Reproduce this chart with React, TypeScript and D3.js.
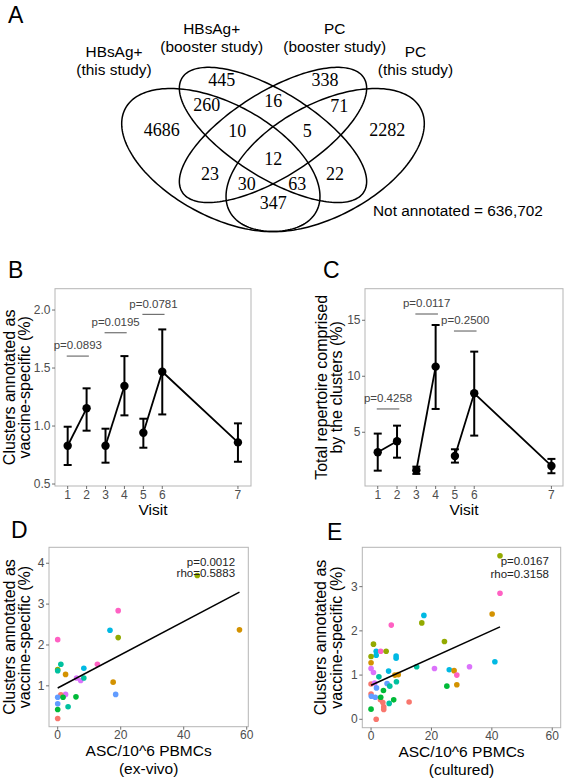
import React from 'react';
import * as d3 from 'd3';

// ---------------- Panel A: Venn data ----------------
const vennSetLines = [
  ['HBsAg+', '(this study)'],
  ['HBsAg+', '(booster study)'],
  ['PC', '(booster study)'],
  ['PC', '(this study)'],
];
const vennRegions = ['1', '2', '3', '4', '12', '23', '34', '14', '123', '234', '13', '24', '134', '124', '1234'];
const vennCounts = [4686, 445, 338, 2282, 260, 16, 71, 347, 10, 5, 23, 22, 30, 63, 12];
const notAnnotated = '636,702';

// ---------------- Panels B / C: visits ----------------
const visitLabels = ['1', '2', '3', '4', '5', '6', '7'];
const visitPos = [1, 2, 3, 4, 5, 6, 10];
const visitSegments = [[0, 1], [2, 3], [4, 5, 6]];

const bMean = [0.83, 1.153, 0.83, 1.345, 0.942, 1.468, 0.859];
const bLow = [0.664, 0.96, 0.684, 1.092, 0.813, 1.1, 0.692];
const bHigh = [0.994, 1.325, 0.977, 1.603, 1.063, 1.833, 1.023];
const bTicks = [0.5, 1.0, 1.5, 2.0];
const bCompFrom = [1, 3, 5];
const bCompTo = [2, 4, 6];
const bCompP = ['p=0.0893', 'p=0.0195', 'p=0.0781'];
const bCompY = [1.603, 1.804, 1.963];

const cMean = [3.21, 4.2, 1.61, 10.86, 2.88, 8.48, 1.99];
const cLow = [1.57, 2.73, 1.28, 7.08, 2.29, 4.7, 1.34];
const cHigh = [4.88, 5.59, 1.93, 14.58, 3.48, 12.2, 2.62];
const cTicks = [5, 10, 15];
const cCompFrom = [1, 3, 5];
const cCompTo = [2, 4, 6];
const cCompP = ['p=0.4258', 'p=0.0117', 'p=0.2500'];
const cCompY = [7.08, 15.56, 14.04];

// ---------------- Panels D / E: scatter ----------------
const palette = ['#F8766D', '#D39200', '#93AA00', '#00BA38', '#00C19F', '#00B9E3', '#619CFF', '#DB72FB', '#FF61C3'];

const dX = [44.3, 19.2, 16.6, 19.2, 57.7, 0, 1.0, 0, 0, 2.5, 8.3, 12.6, 6.0, 7.3, 8.3, 17.6, 18.4, 5.8, 2.5, 1.0, 0, 1.7, 0, 3.3, 0, 0];
const dY = [3.7, 2.84, 2.36, 2.18, 2.37, 2.13, 1.53, 1.4, 1.37, 1.28, 1.43, 1.53, 1.19, 1.13, 1.19, 1.09, 0.79, 0.73, 0.79, 0.78, 0.72, 0.72, 0.56, 0.49, 0.42, 0.2];
const dC = [2, 8, 5, 2, 1, 8, 4, 2, 4, 1, 5, 8, 7, 7, 4, 1, 6, 3, 7, 0, 6, 3, 6, 4, 3, 0];
const dTicksX = [0, 20, 40, 60];
const dTicksY = [1, 2, 3, 4];
const dStats = ['p=0.0012', 'rho=0.5883'];

const eX = [42.7, 42.7, 40.1, 17.5, 6.7, 16.8, 24.3, 0.8, 1.7, 3.2, 5.0, 1.7, 0, 8.3, 8.3, 0, 15.1, 0, 0.8, 21.0, 32.6, 41.0, 25.9, 27.5, 28.4, 28.4, 25.1, 5.8, 2.6, 7.9, 9.0, 0, 1.2, 8.4, 5.3, 1.8, 4.1, 6.2, 0, 0.1, 1.4, 3.1, 3.9, 4.2, 4.2, 6.0, 7.5, 12.6, 0, 1.7, 3.2];
const eY = [3.7, 2.85, 2.38, 2.35, 2.13, 2.18, 1.76, 1.7, 1.54, 1.54, 1.54, 1.45, 1.42, 1.43, 1.38, 1.28, 1.19, 1.15, 1.06, 1.15, 1.19, 1.3, 1.12, 1.1, 1.0, 0.78, 0.75, 1.09, 0.96, 1.0, 1.01, 0.8, 0.82, 0.85, 0.81, 0.71, 0.65, 0.75, 0.57, 0.52, 0.5, 0.44, 0.38, 0.28, 0.22, 0.36, 0.44, 0.39, 0.23, 0.0, 0.5];
const eC = [2, 8, 1, 5, 8, 2, 2, 2, 5, 8, 2, 5, 2, 5, 5, 1, 4, 7, 7, 7, 7, 5, 5, 1, 8, 1, 3, 5, 4, 1, 1, 0, 7, 4, 6, 6, 3, 4, 0, 6, 6, 0, 0, 0, 0, 4, 3, 0, 3, 0, 3];
const eTicksX = [0, 20, 40, 60];
const eTicksY = [0, 1, 2, 3];
const eStats = ['p=0.0167', 'rho=0.3158'];

// ---------------- styles ----------------
const SANS = '"Liberation Sans", Arial, Helvetica, sans-serif';
const SERIF = '"Liberation Serif", "Times New Roman", serif';
const BORDER = '#b5b5b5';
const TICKC = '#4d4d4d';

// Venn layout (unit geometry of the classic 4-ellipse diagram)
const vennCx = [0.35, 0.5, 0.5, 0.65];
const vennCy = [0.47, 0.57, 0.57, 0.47];
const vennRx = [0.35, 0.35, 0.35, 0.35];
const vennRy = [0.2, 0.15, 0.15, 0.2];
const vennRot = [-45, -45, 45, 45];
const vennLabelPos: Record<string, [number, number]> = {
  '1': [161.7, 130], '2': [221.7, 80], '3': [325, 80], '4': [387.3, 130],
  '12': [206.7, 105], '23': [273.3, 100.7], '34': [339.3, 106], '14': [273.3, 202.3],
  '123': [237.3, 130.7], '234': [307.3, 130.7], '13': [210, 173.3], '24': [335, 173.3],
  '134': [246.7, 184], '124': [297.3, 184], '1234': [273.3, 158.3],
};
const vennSetPos: [number, number][] = [[114, 51.7], [211.7, 28.3], [334.7, 28.3], [415.5, 51.7]];

function Venn() {
  const sx = d3.scaleLinear().domain([0, 1]).range([99.1, 446.9]);
  const sy = d3.scaleLinear().domain([0, 1]).range([278, 27]);
  const line = d3.line<[number, number]>().curve(d3.curveLinearClosed);
  const paths = vennCx.map((cx, i) => {
    const th = (vennRot[i] * Math.PI) / 180;
    const pts: [number, number][] = d3.range(0, 360, 2).map((deg) => {
      const t = (deg * Math.PI) / 180;
      const u = cx + vennRx[i] * Math.cos(t) * Math.cos(th) - vennRy[i] * Math.sin(t) * Math.sin(th);
      const v = vennCy[i] + vennRx[i] * Math.cos(t) * Math.sin(th) + vennRy[i] * Math.sin(t) * Math.cos(th);
      return [sx(u), sy(v)];
    });
    return line(pts) as string;
  });
  return (
    <g>
      {paths.map((d, i) => (
        <path key={i} d={d} fill="none" stroke="#000" strokeWidth={1.5} />
      ))}
      {vennRegions.map((r, i) => (
        <text key={r} x={vennLabelPos[r][0]} y={vennLabelPos[r][1]} dy="0.35em" textAnchor="middle"
          fontFamily={SERIF} fontSize={18} fill="#000">{vennCounts[i]}</text>
      ))}
      {vennSetLines.map((lines, i) => (
        <g key={i}>
          {lines.map((t, j) => (
            <text key={j} x={vennSetPos[i][0]} y={vennSetPos[i][1] + j * 18.3} dy="0.35em" textAnchor="middle"
              fontFamily={SANS} fontSize={15.4} fill="#000">{t}</text>
          ))}
        </g>
      ))}
      <text x={373} y={210.5} dy="0.35em" fontFamily={SANS} fontSize={15.4} fill="#000">{`Not annotated = ${notAnnotated}`}</text>
    </g>
  );
}

function YTitle({ lines, baselines, cy }: { lines: string[]; baselines: number[]; cy: number }) {
  return (
    <g>
      {lines.map((t, i) => (
        <text key={i} transform={`translate(${baselines[i]},${cy}) rotate(-90)`} textAnchor="middle"
          fontFamily={SANS} fontSize={16} fill="#000">{t}</text>
      ))}
    </g>
  );
}

function Frame({ box, xs, ys, xTicks, xLabels, yTicks, yFmt }: any) {
  return (
    <g>
      <rect x={box.x0} y={box.y0} width={box.x1 - box.x0} height={box.y1 - box.y0} fill="#fff" stroke={BORDER} strokeWidth={1} />
      {yTicks.map((t: number) => (
        <g key={'y' + t}>
          <line x1={box.x0 - 3} x2={box.x0} y1={ys(t)} y2={ys(t)} stroke={TICKC} strokeWidth={0.8} />
          <text x={box.x0 - 4.5} y={ys(t)} dy="0.35em" textAnchor="end" fontFamily={SANS} fontSize={12} fill={TICKC}>{yFmt(t)}</text>
        </g>
      ))}
      {xTicks.map((t: number, i: number) => (
        <g key={'x' + i}>
          <line x1={xs(t)} x2={xs(t)} y1={box.y1} y2={box.y1 + 3} stroke={TICKC} strokeWidth={0.8} />
          <text x={xs(t)} y={box.y1 + 8.3} dy="0.35em" textAnchor="middle" fontFamily={SANS} fontSize={12} fill={TICKC}>{xLabels[i]}</text>
        </g>
      ))}
    </g>
  );
}

function VisitPanel({ box, yDomain, xDomain, mean, low, high, yTicks, yFmt, cFrom, cTo, cP, cY, titleLines, titleBase }: any) {
  const xs = d3.scaleLinear().domain(xDomain).range([box.x0, box.x1]);
  const ys = d3.scaleLinear().domain(yDomain).range([box.y1, box.y0]);
  const line = d3.line<number>().x((i) => xs(visitPos[i])).y((i) => ys(mean[i]));
  const cap = 4;
  return (
    <g>
      <Frame box={box} xs={xs} ys={ys} xTicks={visitPos} xLabels={visitLabels} yTicks={yTicks} yFmt={yFmt} />
      {visitSegments.map((seg, k) => (
        <path key={k} d={line(seg) as string} fill="none" stroke="#000" strokeWidth={1.8} />
      ))}
      {mean.map((m: number, i: number) => {
        const x = xs(visitPos[i]);
        return (
          <g key={i}>
            <line x1={x} x2={x} y1={ys(low[i])} y2={ys(high[i])} stroke="#000" strokeWidth={2} />
            <line x1={x - cap} x2={x + cap} y1={ys(low[i])} y2={ys(low[i])} stroke="#000" strokeWidth={2} />
            <line x1={x - cap} x2={x + cap} y1={ys(high[i])} y2={ys(high[i])} stroke="#000" strokeWidth={2} />
            <circle cx={x} cy={ys(m)} r={4.2} fill="#000" />
          </g>
        );
      })}
      {cFrom.map((f: number, i: number) => {
        const xa = xs(visitPos[f - 1] - 0.05);
        const xb = xs(visitPos[cTo[i] - 1] + 0.12);
        const y = ys(cY[i]);
        return (
          <g key={'c' + i}>
            <line x1={xa} x2={xb} y1={y} y2={y} stroke="#555" strokeWidth={1} />
            <text x={(xa + xb) / 2} y={y - 10.7} dy="0.35em" textAnchor="middle" fontFamily={SANS} fontSize={11.5} fill="#444">{cP[i]}</text>
          </g>
        );
      })}
      <YTitle lines={titleLines} baselines={titleBase} cy={(box.y0 + box.y1) / 2} />
      <text x={(box.x0 + box.x1) / 2} y={box.y1 + 23.6} dy="0.35em" textAnchor="middle" fontFamily={SANS} fontSize={15.5} fill="#000">Visit</text>
    </g>
  );
}

function ScatterPanel({ box, xDomain, yDomain, xv, yv, cv, xTicks, yTicks, stats, statX, statY, titleLines, titleBase, xTitle }: any) {
  const xs = d3.scaleLinear().domain(xDomain).range([box.x0, box.x1]);
  const ys = d3.scaleLinear().domain(yDomain).range([box.y1, box.y0]);
  const mx = d3.mean(xv) as number;
  const my = d3.mean(yv) as number;
  const sxy = d3.sum(xv.map((x: number, i: number) => (x - mx) * (yv[i] - my)));
  const sxx = d3.sum(xv.map((x: number) => (x - mx) * (x - mx)));
  const slope = sxy / sxx;
  const icpt = my - slope * mx;
  const [xmin, xmax] = d3.extent(xv) as [number, number];
  return (
    <g>
      <Frame box={box} xs={xs} ys={ys} xTicks={xTicks} xLabels={xTicks.map(String)} yTicks={yTicks} yFmt={String} />
      {xv.map((x: number, i: number) => (
        <circle key={i} cx={xs(x)} cy={ys(yv[i])} r={2.8} fill={palette[cv[i]]} />
      ))}
      <line x1={xs(xmin)} x2={xs(xmax)} y1={ys(icpt + slope * xmin)} y2={ys(icpt + slope * xmax)} stroke="#000" strokeWidth={1.5} />
      {stats.map((s: string, i: number) => (
        <text key={s} x={xs(statX)} y={ys(statY[i])} dy="0.35em" textAnchor="end" fontFamily={SANS} fontSize={11.5} fill="#222">{s}</text>
      ))}
      <YTitle lines={titleLines} baselines={titleBase} cy={(box.y0 + box.y1) / 2} />
      {xTitle.map((t: string, i: number) => (
        <text key={i} x={(box.x0 + box.x1) / 2} y={box.y1 + 23.8 + i * 17.6} dy="0.35em" textAnchor="middle" fontFamily={SANS} fontSize={15.5} fill="#000">{t}</text>
      ))}
    </g>
  );
}

function Letter({ x, y, t }: { x: number; y: number; t: string }) {
  return <text x={x} y={y} fontFamily={SANS} fontSize={23} fill="#000">{t}</text>;
}

export default function App() {
  const clusterTitle = ['Clusters annotated as', 'vaccine-specific (%)'];
  return (
    <svg width={567} height={778} style={{ position: 'absolute', left: 0, top: 0, background: '#fff' }}>
      <rect x={0} y={0} width={567} height={778} fill="#fff" />
      <Letter x={8} y={23.3} t="A" />
      <Venn />

      <Letter x={8} y={278.3} t="B" />
      <VisitPanel
        box={{ x0: 55, y0: 288.7, x1: 251, y1: 486 }}
        xDomain={[0.33, 10.69]} yDomain={[0.483, 2.184]}
        mean={bMean} low={bLow} high={bHigh} yTicks={bTicks} yFmt={d3.format('.1f')}
        cFrom={bCompFrom} cTo={bCompTo} cP={bCompP} cY={bCompY}
        titleLines={clusterTitle} titleBase={[14.5, 29.6]} />

      <Letter x={323} y={278.3} t="C" />
      <VisitPanel
        box={{ x0: 365, y0: 288.7, x1: 563, y1: 486 }}
        xDomain={[0.34, 10.6]} yDomain={[0.2, 17.82]}
        mean={cMean} low={cLow} high={cHigh} yTicks={cTicks} yFmt={String}
        cFrom={cCompFrom} cTo={cCompTo} cP={cCompP} cY={cCompY}
        titleLines={['Total repertoire comprised', 'by the clusters (%)']} titleBase={[326.5, 342]} />

      <Letter x={11} y={538.3} t="D" />
      <ScatterPanel
        box={{ x0: 49, y0: 547.3, x1: 248.3, y1: 726.7 }}
        xDomain={[-2.76, 60.5]} yDomain={[0, 4.39]}
        xv={dX} yv={dY} cv={dC} xTicks={dTicksX} yTicks={dTicksY}
        stats={dStats} statX={56.3} statY={[4.04, 3.76]}
        titleLines={clusterTitle} titleBase={[14.5, 29.6]} xTitle={['ASC/10^6 PBMCs', '(ex-vivo)']} />

      <Letter x={327} y={540} t="E" />
      <ScatterPanel
        box={{ x0: 362.3, y0: 547.3, x1: 560.7, y1: 727.7 }}
        xDomain={[-2.9, 62.8]} yDomain={[-0.19, 3.89]}
        xv={eX} yv={eY} cv={eC} xTicks={eTicksX} yTicks={eTicksY}
        stats={eStats} statX={58.9} statY={[3.59, 3.29]}
        titleLines={clusterTitle} titleBase={[326, 341.5]} xTitle={['ASC/10^6 PBMCs', '(cultured)']} />
    </svg>
  );
}
